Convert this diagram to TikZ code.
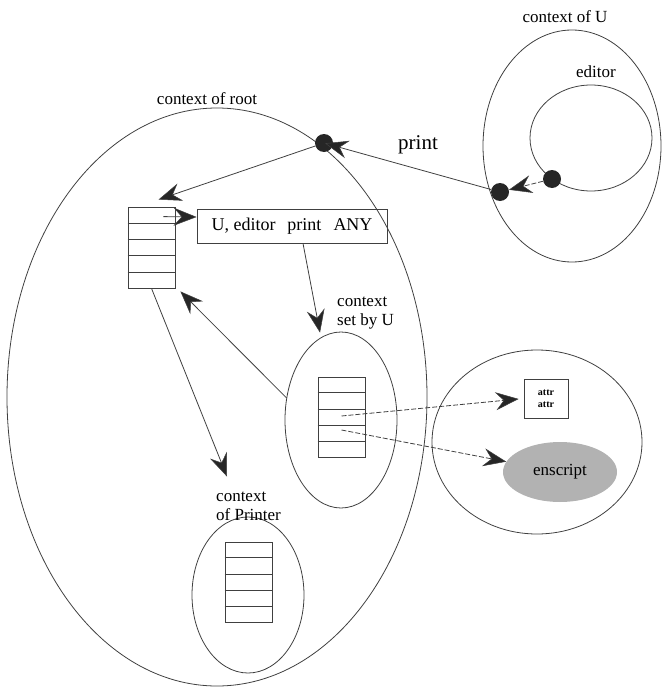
\documentclass[tikz,border=0pt]{standalone}
\usepackage{fontspec}
\setmainfont{Liberation Serif}
\usetikzlibrary{shapes.geometric,arrows.meta,calc}
\tikzset{
  ln/.style={draw=black!75, line width=0.8pt},
  ell/.style={ellipse, ln, inner sep=0pt},
  tbl/.style={rectangle, ln, minimum width=47pt, minimum height=80pt, inner sep=0pt},
  dot/.style={circle, fill=black!85, minimum size=18pt, inner sep=0pt},
  arr/.style={ln, -{Stealth[length=23pt,width=18pt,inset=8pt,fill=black!85,line width=0.5pt]}},
  dsh/.style={dash pattern=on 5pt off 2pt},
  lbl/.style={font=\fontsize{17}{19}\selectfont, inner sep=0pt, text=black},
}
\newcommand{\tblrows}[1]{%
  \foreach \i in {1,...,4}{\draw[ln] ($(#1.north west)!\i/5!(#1.south west)$) -- ($(#1.north east)!\i/5!(#1.south east)$);}}
\begin{document}
\begin{tikzpicture}[x=1pt,y=-1pt]
\useasboundingbox (0,0) rectangle (664,688);
% ellipses
\node[ell, minimum width=420pt, minimum height=578pt] (root) at (217,397) {};
\node[ell, minimum width=178pt, minimum height=232pt] (ctxU) at (572,146) {};
\node[ell, minimum width=122pt, minimum height=106pt] (editor) at (591,138) {};
\node[ell, minimum width=112pt, minimum height=176pt] (setU) at (341,420) {};
\node[ell, minimum width=112pt, minimum height=156pt] (printer) at (248,595) {};
\node[ell, minimum width=210pt, minimum height=184pt] (right) at (537,442) {};
\node[ellipse, fill=black!30, minimum width=114pt, minimum height=60pt, inner sep=0pt, lbl] (ens) at (560,472) {enscript};
\node[rectangle, ln, minimum width=44pt, minimum height=39pt, inner sep=0pt, align=center, font=\fontsize{10}{12}\selectfont\bfseries] (attr) at (546,398.5) {attr\\attr};
% tables
\node[tbl, minimum height=81pt] (tabL) at (151.5,247.5) {};
\tblrows{tabL}
\node[tbl] (tabU) at (341.5,417) {};
\tblrows{tabU}
\node[tbl] (tabP) at (248.5,582) {};
\tblrows{tabP}
% box
\node[rectangle, ln, minimum width=190pt, minimum height=34pt, inner sep=0pt, font=\fontsize{18}{20}\selectfont] (box) at (292,226) {U, editor\hspace{12pt}print\hspace{12pt}ANY};
% dots
\node[dot] (d1) at (324,143) {};
\node[dot] (d2) at (552,179) {};
\node[dot] (d3) at (500,192) {};
% labels
\node[lbl] (lroot) at (207,99) {context of root};
\node[lbl, font=\fontsize{21}{23}\selectfont] (lprint) at (418,145) {print};
\node[lbl] (lU) at (565,17) {context of U};
\node[lbl] (leditor) at (596,72) {editor};
\node[lbl, anchor=west, align=left] (lsetU) at (337,313) {context\\set by U};
\node[lbl, anchor=west, align=left] (lprinter) at (216,506) {context\\of Printer};
% connectors
\draw[arr, shorten >=-8pt] (d3) -- (d1);
\draw[arr, dsh] (d2) -- (d3);
\coordinate (tL) at ($(tabL.north)+(7,-7)$);
\draw[arr] (d1) -- (tL);
\coordinate (r1) at ($(tabL.north east)+(-12,10)$);
\coordinate (bw) at ($(box.west)+(0,-9)$);
\draw[arr] (r1) -- (bw);
\coordinate (bs) at ($(box.south)+(11,0)$);
\coordinate (sT) at ($(setU.north)+(-21,1)$);
\draw[arr] (bs) -- (sT);
\coordinate (sW) at ($(setU.west)+(2,-22)$);
\coordinate (tLse) at ($(tabL.south east)+(5,3)$);
\draw[arr] (sW) -- (tLse);
\coordinate (pT) at ($(printer.north)+(-21,-40)$);
\draw[arr] (tabL.south) -- (pT);
\coordinate (u1) at ($(tabU.center)+(0,-1)$);
\coordinate (u2) at ($(tabU.center)+(0,13)$);
\draw[arr, dsh, shorten >=5pt] (u1) -- (attr.west);
\draw[arr, dsh] (u2) -- (ens);
\end{tikzpicture}
\end{document}
